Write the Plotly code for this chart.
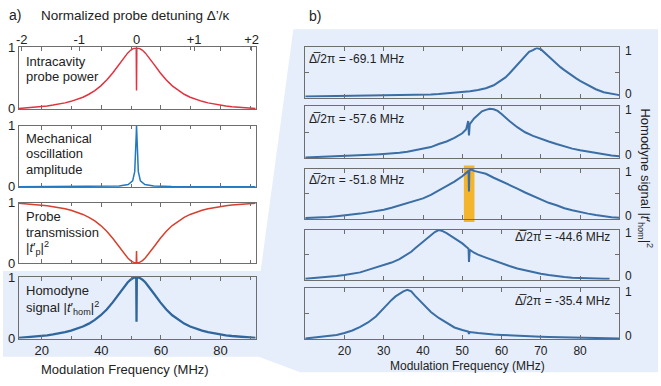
import plotly.graph_objects as go

W, H = 661, 386

# ---------------- panel a): model curves vs modulation frequency (MHz)
f_left = [12.3, 13.8, 15.8, 17.8, 19.8, 21.8, 23.8, 25.8, 27.8, 29.8, 31.8, 33.8, 35.8, 37.8,
          39.8, 41.8, 43.8, 45.8, 47.8, 48.8, 49.8, 50.8, 51.7, 51.8, 51.9, 52.8, 53.8, 54.8,
          55.8, 57.8, 59.8, 61.8, 63.8, 65.8, 67.8, 69.8, 71.8, 73.8, 75.8, 77.8, 79.8, 81.8,
          83.8, 85.8, 87.8, 89.8, 91.8]
probe_power = [0.005, 0.010, 0.018, 0.026, 0.036, 0.048, 0.062, 0.078, 0.098, 0.123, 0.153, 0.191,
               0.239, 0.300, 0.376, 0.471, 0.587, 0.720, 0.854, 0.912, 0.959, 0.989, 1.0, 0.30,
               1.0, 0.989, 0.959, 0.912, 0.854, 0.720, 0.587, 0.471, 0.376, 0.300, 0.239, 0.191,
               0.153, 0.123, 0.098, 0.078, 0.062, 0.048, 0.036, 0.026, 0.018, 0.010, 0.004]
probe_trans = [0.995, 0.990, 0.982, 0.974, 0.964, 0.952, 0.938, 0.922, 0.902, 0.877, 0.847, 0.809,
               0.761, 0.700, 0.624, 0.529, 0.413, 0.280, 0.146, 0.088, 0.041, 0.011, 0.0, 0.20,
               0.0, 0.011, 0.041, 0.088, 0.146, 0.280, 0.413, 0.529, 0.624, 0.700, 0.761, 0.809,
               0.847, 0.877, 0.902, 0.922, 0.938, 0.952, 0.964, 0.974, 0.982, 0.990, 0.996]
homodyne_model = [0.005, 0.010, 0.018, 0.026, 0.036, 0.048, 0.062, 0.078, 0.098, 0.123, 0.153, 0.191,
                  0.239, 0.300, 0.376, 0.471, 0.587, 0.720, 0.854, 0.912, 0.959, 0.989, 1.0, 0.27,
                  1.0, 0.989, 0.959, 0.912, 0.854, 0.720, 0.587, 0.471, 0.376, 0.300, 0.239, 0.191,
                  0.153, 0.123, 0.098, 0.078, 0.062, 0.048, 0.036, 0.026, 0.018, 0.010, 0.004]
f_mech = [12.3, 30, 40, 46, 49, 50.5, 51.2, 51.5, 51.7, 51.8, 51.9, 52.1, 52.4, 53.1, 54.6, 57.6,
          63.6, 75, 91.8]
mech_amp = [0.002, 0.004, 0.007, 0.015, 0.04, 0.1, 0.25, 0.5, 0.85, 1.0, 0.85, 0.5, 0.25, 0.1,
            0.04, 0.015, 0.007, 0.004, 0.002]

detuning_ticks = [-2, -1, 0, 1, 2]
detuning_labels = ['-2', '-1', '0', '+1', '+2']
freq_ticks_left = [20, 40, 60, 80]

# ---------------- panel b): measured homodyne signal for five detunings
f_r1 = [10, 12, 14, 16, 18, 20, 22, 24, 26, 28, 30, 32, 34, 36, 38, 40, 42, 44, 46, 48, 50, 52, 54,
        56, 58, 60, 61, 62, 63, 64, 65, 66, 67, 68, 69, 70, 71, 72, 73, 74, 75, 76, 77, 78, 79, 80,
        82, 84, 86, 88, 90]
s_r1 = [0.01, 0.012, 0.014, 0.016, 0.018, 0.02, 0.022, 0.024, 0.026, 0.028, 0.03, 0.033, 0.036,
        0.04, 0.043, 0.047, 0.055, 0.063, 0.075, 0.088, 0.10, 0.12, 0.145, 0.18, 0.24, 0.34, 0.40,
        0.48, 0.57, 0.66, 0.75, 0.84, 0.92, 0.955, 1.0, 0.975, 0.90, 0.83, 0.76, 0.68, 0.61, 0.55,
        0.49, 0.43, 0.38, 0.33, 0.24, 0.16, 0.10, 0.065, 0.04]
f_r2 = [10, 12, 14, 16, 18, 20, 22, 24, 26, 28, 30, 32, 34, 36, 38, 40, 42, 44, 46, 48, 50, 51,
        51.5, 51.7, 51.9, 53, 54, 55, 56, 57, 58, 59, 60, 61, 62, 64, 66, 68, 70, 72, 74, 76, 78,
        80, 82, 84, 86, 88, 90]
s_r2 = [0.005, 0.01, 0.015, 0.02, 0.025, 0.03, 0.04, 0.05, 0.055, 0.065, 0.075, 0.085, 0.10, 0.12,
        0.145, 0.175, 0.21, 0.27, 0.32, 0.39, 0.48, 0.56, 0.72, 0.44, 0.66, 0.77, 0.85, 0.91, 0.94,
        0.96, 0.95, 0.92, 0.86, 0.79, 0.72, 0.60, 0.50, 0.43, 0.37, 0.32, 0.27, 0.22, 0.18, 0.15,
        0.12, 0.09, 0.07, 0.045, 0.03]
f_r3 = [10, 12, 14, 16, 18, 20, 22, 24, 26, 28, 30, 32, 34, 36, 38, 40, 42, 44, 46, 48, 50, 51,
        51.6, 51.7, 51.8, 52.2, 53, 54, 56, 58, 60, 62, 64, 66, 68, 70, 72, 74, 76, 78, 80, 82, 84,
        86, 88, 90]
s_r3 = [0.01, 0.015, 0.02, 0.03, 0.045, 0.06, 0.08, 0.10, 0.125, 0.15, 0.18, 0.22, 0.27, 0.32, 0.36,
        0.41, 0.48, 0.57, 0.66, 0.75, 0.86, 0.93, 0.97, 0.55, 0.98, 1.0, 0.97, 0.95, 0.91, 0.83,
        0.76, 0.69, 0.61, 0.53, 0.46, 0.38, 0.32, 0.27, 0.21, 0.17, 0.13, 0.10, 0.07, 0.045, 0.025,
        0.015]
f_r4 = [10, 12, 14, 16, 18, 20, 22, 24, 26, 28, 30, 32, 34, 36, 37, 38, 39, 40, 41, 42, 43, 44, 45,
        46, 47, 48, 50, 51, 51.6, 51.7, 51.9, 53, 54, 56, 58, 60, 62, 64, 66, 68, 70, 72, 74, 76,
        78, 80, 82, 84, 86, 87.5]
s_r4 = [0.01, 0.02, 0.03, 0.045, 0.065, 0.085, 0.11, 0.14, 0.19, 0.24, 0.29, 0.34, 0.41, 0.50, 0.56,
        0.63, 0.70, 0.77, 0.84, 0.90, 0.96, 1.0, 0.98, 0.94, 0.89, 0.84, 0.73, 0.66, 0.62, 0.35,
        0.60, 0.54, 0.50, 0.44, 0.38, 0.32, 0.27, 0.22, 0.18, 0.14, 0.11, 0.085, 0.06, 0.045,
        0.03, 0.022, 0.016, 0.012, 0.01, 0.008]
f_r5 = [10, 12, 14, 16, 18, 20, 22, 24, 26, 28, 30, 31, 32, 33, 34, 35, 36, 37, 38, 39, 40, 41, 42,
        44, 46, 48, 50, 51.5, 51.7, 51.9, 54, 56, 58, 60, 62, 64, 66, 68, 70, 72, 74, 76, 78, 80,
        82, 84, 86, 88, 90]
s_r5 = [0.01, 0.025, 0.04, 0.055, 0.08, 0.12, 0.17, 0.24, 0.33, 0.45, 0.62, 0.70, 0.78, 0.85, 0.90,
        0.95, 0.98, 0.95, 0.86, 0.78, 0.70, 0.62, 0.54, 0.42, 0.32, 0.23, 0.18, 0.15, 0.10, 0.14,
        0.12, 0.10, 0.09, 0.08, 0.07, 0.065, 0.06, 0.05, 0.045, 0.04, 0.035, 0.03, 0.027, 0.023,
        0.02, 0.016, 0.013, 0.01, 0.008]
detuning_names = ['-69.1', '-57.6', '-51.8', '-44.6', '-35.4']
freq_ticks_right = [20, 30, 40, 50, 60, 70, 80]


def hx(p):
    return p / W


def vy(p):
    return 1 - p / H


FONT = 'Arial, Liberation Sans, sans-serif'
INK = '#222222'
FRAME = '#6e6e6e'
DATA_BLUE = '#3a6ea5'

frame = dict(showline=True, linecolor=FRAME, linewidth=1, mirror='ticks', ticks='inside',
             ticklen=4, tickcolor=FRAME, showgrid=False, zeroline=False, fixedrange=True,
             tickfont=dict(size=13, color=INK))

fig = go.Figure()
layout = {}
ann = []

# left column
left_rows = [(42, 106), (123, 187), (203, 266), (280, 344)]
left_curves = [(f_left, probe_power, '#e2323f', 1.5),
               (f_mech, mech_amp, '#2079c2', 1.5),
               (f_left, probe_trans, '#d6402c', 1.5),
               (f_left, homodyne_model, '#30669e', 2.3)]
for i, ((top, bot), (xs, ys, col, lw)) in enumerate(zip(left_rows, left_curves), start=1):
    fig.add_trace(go.Scatter(x=xs, y=ys, mode='lines', line=dict(color=col, width=lw),
                             xaxis=f'x{i}', yaxis=f'y{i}', hoverinfo='skip'))
    layout[f'xaxis{i}'] = dict(frame, domain=[hx(16), hx(255)], anchor=f'y{i}', range=[12.3, 91.8],
                               tickvals=freq_ticks_left, showticklabels=(i == 4),
                               minor=dict(tickvals=[30, 50, 70, 90], ticks='inside', ticklen=3,
                                          tickcolor=FRAME))
    layout[f'yaxis{i}'] = dict(frame, domain=[vy(bot), vy(top)], anchor=f'x{i}',
                               range=[-0.005, 1.005], tickvals=[0, 1])

# top detuning axis over the first panel
fig.add_trace(go.Scatter(x=[0], y=[0.5], mode='markers', marker=dict(opacity=0),
                         xaxis='x5', yaxis='y1', hoverinfo='skip'))
layout['xaxis5'] = dict(overlaying='x1', anchor='y1', side='top', domain=[hx(16), hx(255)],
                        range=[-2.05, 2.07], tickvals=detuning_ticks, ticktext=detuning_labels,
                        ticks='inside', ticklen=4, tickcolor=FRAME, showline=False,
                        showgrid=False, zeroline=False, fixedrange=True,
                        tickfont=dict(size=13, color=INK))

# right column
right_rows = [(42, 94), (103, 157), (168, 220), (231, 283), (292, 345)]
right_curves = [(f_r1, s_r1), (f_r2, s_r2), (f_r3, s_r3), (f_r4, s_r4), (f_r5, s_r5)]
for k, ((top, bot), (xs, ys)) in enumerate(zip(right_rows, right_curves)):
    n = 6 + k
    fig.add_trace(go.Scatter(x=xs, y=ys, mode='lines', line=dict(color=DATA_BLUE, width=2),
                             xaxis=f'x{n}', yaxis=f'y{n}', hoverinfo='skip'))
    layout[f'xaxis{n}'] = dict(frame, domain=[hx(305), hx(622)], anchor=f'y{n}', range=[10, 90],
                               tickvals=freq_ticks_right, showticklabels=(k == 4),
                               tickfont=dict(size=12, color=INK))
    layout[f'yaxis{n}'] = dict(frame, domain=[vy(bot), vy(top)], anchor=f'x{n}', side='right',
                               range=[-0.01, 1.01], tickvals=[0, 0.5, 1], showticklabels=False)
    # 0 / 1 labels nudged inward so stacked panels don't collide
    for val, shift in ((1, -3), (0, 3)):
        ann.append(dict(xref=f'x{n} domain', yref=f'y{n}', x=1, y=val, xshift=4, yshift=shift,
                        text=str(val), showarrow=False, xanchor='left', yanchor='middle',
                        font=dict(size=12, color=INK)))

shapes = [
    # light blue backdrop joining the homodyne panel to panel b)
    dict(type='path', xref='paper', yref='paper', layer='below', line=dict(width=0),
         fillcolor='#e6eefb',
         path=(f'M 0 {vy(274)} L {hx(260)} {vy(274)} L {hx(293)} {vy(23)} L 1 {vy(23)} '
               f'L 1 {vy(379)} L {hx(300)} {vy(379)} L {hx(258)} {vy(363)} L 0 {vy(363)} Z')),
    # highlighted mechanical resonance
    dict(type='rect', xref='x8', yref='paper', layer='below', x0=50.4, x1=53.1,
         y0=vy(223), y1=vy(164.5), fillcolor='#f2b52b', line=dict(width=0)),
]


def text(x, y, s, size=13, anchor='left', **kw):
    ann.append(dict(x=hx(x), y=vy(y), xref='paper', yref='paper', text=s, showarrow=False,
                    xanchor=anchor, yanchor='middle', font=dict(size=size, color=INK), **kw))


text(4, 8.5, 'a)', 14)
text(134, 9, 'Normalized probe detuning Δ’/κ', 13.5, 'center')
text(307, 9, 'b)', 14)

text(21, 57, 'Intracavity')
text(21, 72.5, 'probe power')
text(21, 136, 'Mechanical')
text(21, 152.5, 'oscillation')
text(21, 169, 'amplitude')
text(21, 217.5, 'Probe')
text(21, 233.5, 'transmission')
text(21, 250, '|<i>t</i>′<sub>p</sub>|<sup>2</sup>')
text(21, 294.5, 'Homodyne')
text(21, 312, 'signal |<i>t</i>′<sub>hom</sub>|<sup>2</sup>')

text(123.5, 376, 'Modulation Frequency (MHz)', 13, 'center')
text(469, 373, 'Modulation Frequency (MHz)', 12, 'center')
text(649, 178, 'Homodyne signal |<i>t</i>′<sub>hom</sub>|<sup>2</sup>', 13, 'center', textangle=90)

label_pos = [(307, 53.5, 'left'), (307, 116.5, 'left'), (307, 180, 'left'),
             (615, 238.5, 'right'), (615, 305, 'right')]
for (x, y, a), d in zip(label_pos, detuning_names):
    text(x, y, f'Δ\u0305/2π = {d} MHz', 12, a)

layout.update(width=W, height=H, margin=dict(l=0, r=0, t=0, b=0), paper_bgcolor='white',
              plot_bgcolor='rgba(0,0,0,0)', showlegend=False, shapes=shapes, annotations=ann,
              font=dict(family=FONT, size=13, color=INK))
fig.update_layout(**layout)
fig.write_html("out.html", config={'displayModeBar': False},
               post_script="document.body.style.margin = '0';")
